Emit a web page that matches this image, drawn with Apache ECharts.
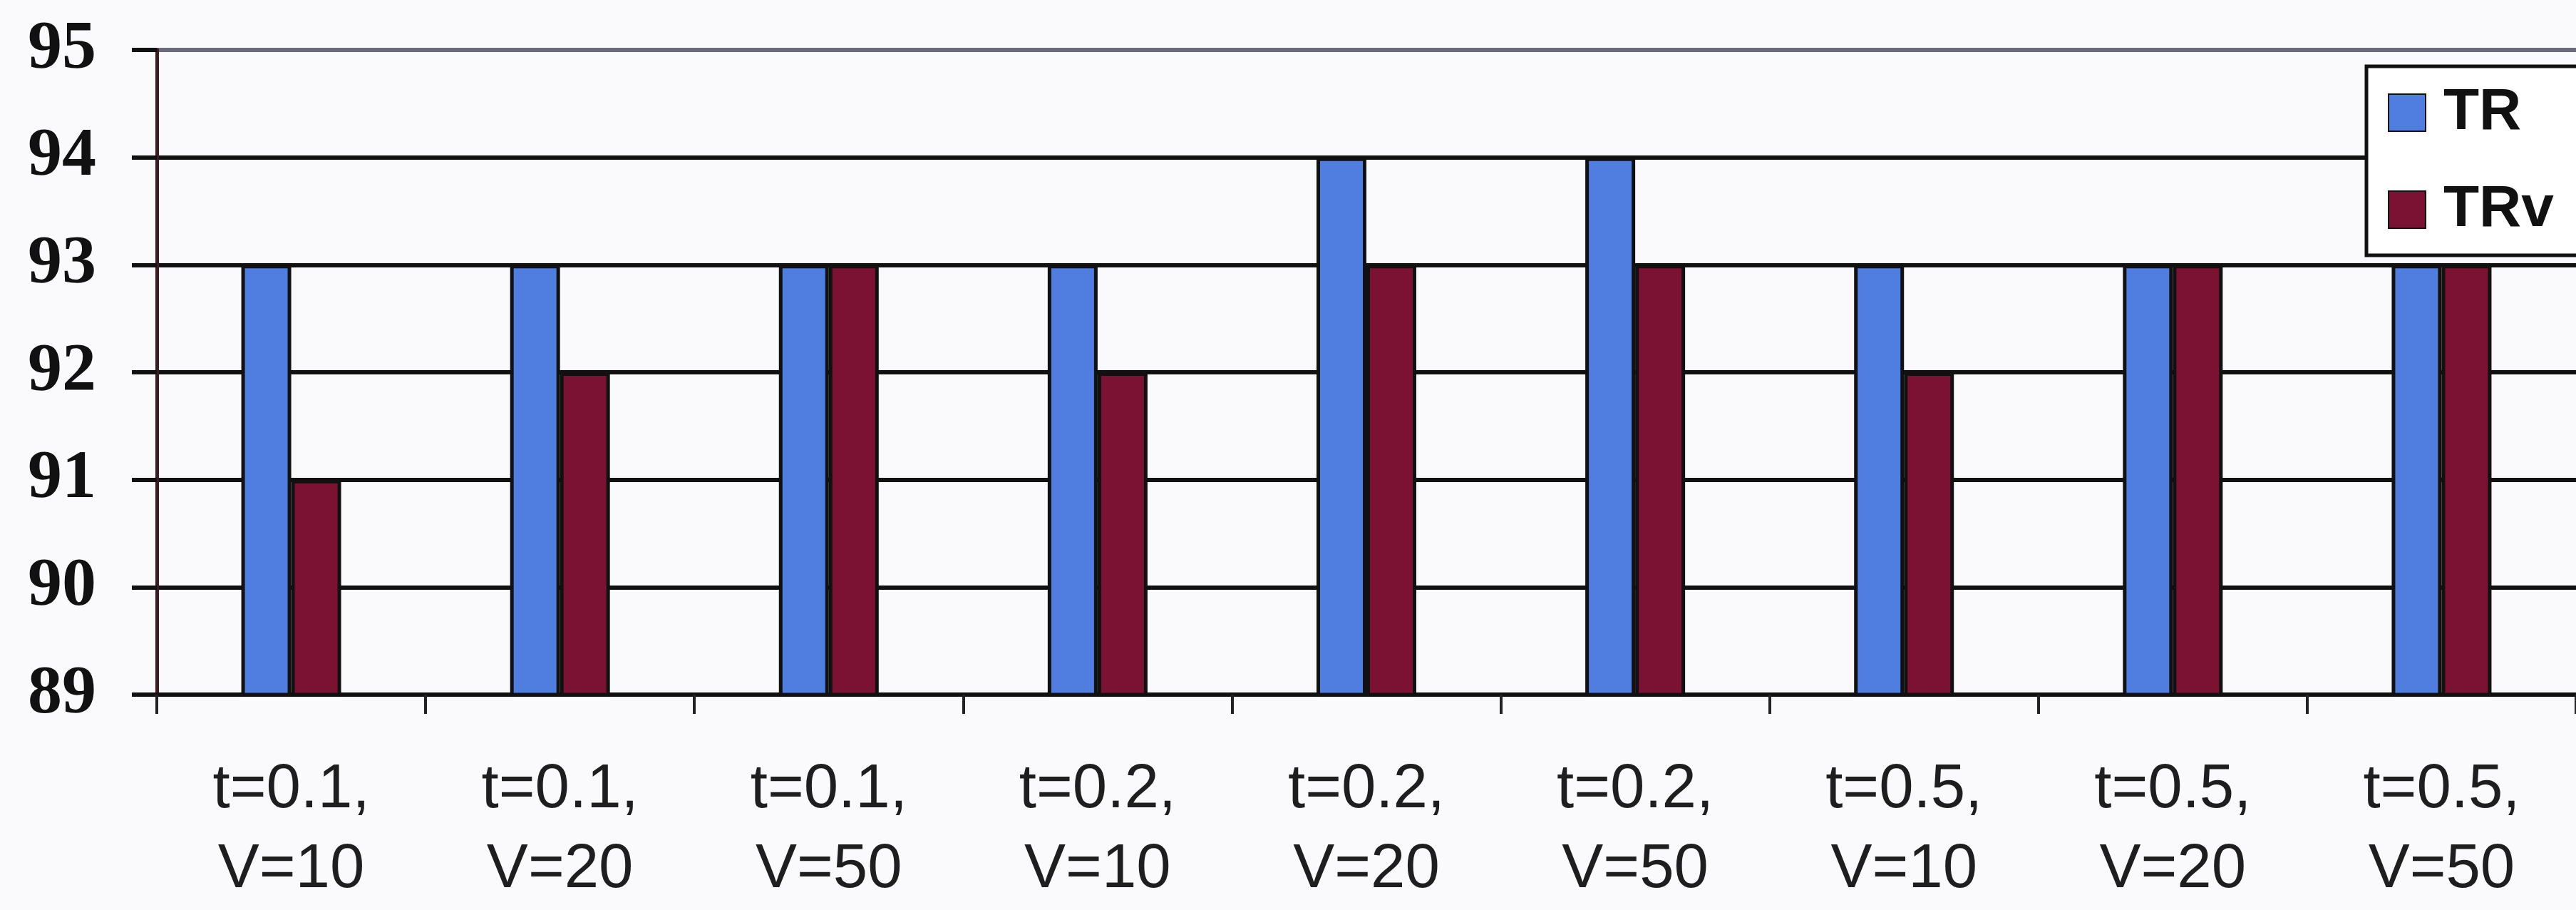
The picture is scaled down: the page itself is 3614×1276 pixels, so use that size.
<!DOCTYPE html>
<html>
<head>
<meta charset="utf-8">
<title>TR / TRv</title>
<script src="https://cdn.jsdelivr.net/npm/echarts@6/dist/echarts.min.js"></script>
<style>
  html, body { margin: 0; padding: 0; background: #fafafc; }
  #chart { width: 3614px; height: 1276px; }
</style>
</head>
<body>
<div id="chart"></div>
<script>
// Parameter combinations (t, V) shown along the x axis
const categories = [
  't=0.1,\nV=10', 't=0.1,\nV=20', 't=0.1,\nV=50',
  't=0.2,\nV=10', 't=0.2,\nV=20', 't=0.2,\nV=50',
  't=0.5,\nV=10', 't=0.5,\nV=20', 't=0.5,\nV=50'
];
const seriesNames = ['TR', 'TRv'];
const trValues  = [93, 93, 93, 93, 94, 94, 93, 93, 93];
const trvValues = [91, 92, 93, 92, 93, 93, 92, 93, 93];
const yMin = 89, yMax = 95, yStep = 1;

const chart = echarts.init(document.getElementById('chart'), null, { renderer: 'canvas' });

// one colour per horizontal line from 89 up to 95; the topmost edge is lighter
const gridLineColors = ['#111', '#111', '#111', '#111', '#111', '#111', '#6a6a78'];

const barBorder = { borderColor: '#111', borderWidth: 5 };

chart.setOption({
  backgroundColor: '#fafafc',
  animation: false,
  grid: { left: 220, right: -20, top: 70, height: 910, containLabel: false },
  legend: {
    left: 3320, top: 93,
    orient: 'vertical',
    icon: 'rect',
    itemWidth: 52, itemHeight: 52, itemGap: 54,
    padding: [24, 80, 23, 30],
    backgroundColor: '#ffffff',
    borderColor: '#111', borderWidth: 5,
    textStyle: {
      fontFamily: '"Liberation Sans", Arial, sans-serif',
      fontWeight: 'bold', fontSize: 82, color: '#111',
      padding: [0, 0, 0, 20]
    },
    data: seriesNames
  },
  xAxis: {
    type: 'category',
    data: categories,
    boundaryGap: true,
    axisLine: { lineStyle: { color: '#111', width: 6 } },
    axisTick: { show: true, interval: 0, length: 27, lineStyle: { color: '#222', width: 4 } },
    axisLabel: {
      interval: 0, margin: 78,
      fontFamily: '"Liberation Sans", Arial, sans-serif',
      fontSize: 87, lineHeight: 112, color: '#1e1e1e'
    },
    splitLine: { show: false }
  },
  yAxis: {
    type: 'value',
    min: yMin, max: yMax, interval: yStep,
    axisLine: { show: true, lineStyle: { color: '#3a1c24', width: 5 } },
    axisTick: { show: true, length: 35, lineStyle: { color: '#111', width: 6 } },
    axisLabel: {
      margin: 85,
      fontFamily: '"Liberation Serif", "Times New Roman", serif',
      fontWeight: 'bold', fontSize: 96, color: '#111'
    },
    splitLine: { show: true, lineStyle: { color: gridLineColors, width: 6 } }
  },
  series: [
    {
      name: seriesNames[0], type: 'bar', data: trValues,
      barWidth: 70, barGap: '0%',
      itemStyle: Object.assign({ color: '#4f7de0' }, barBorder)
    },
    {
      name: seriesNames[1], type: 'bar', data: trvValues,
      barWidth: 70, barGap: '0%',
      itemStyle: Object.assign({ color: '#7c1233' }, barBorder)
    }
  ]
});
</script>
</body>
</html>
